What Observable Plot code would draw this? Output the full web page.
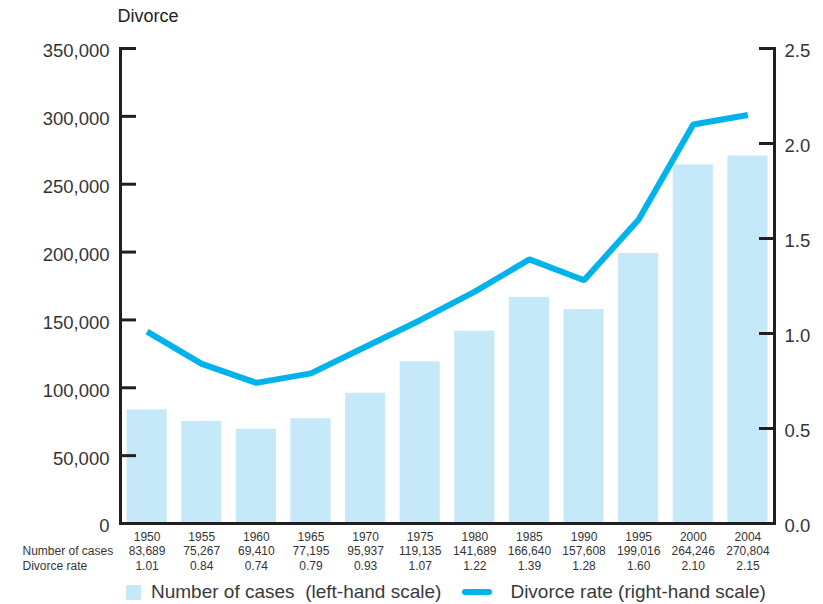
<!DOCTYPE html>
<html>
<head>
<meta charset="utf-8">
<script src="https://cdn.jsdelivr.net/npm/d3@7"></script>
<script src="https://cdn.jsdelivr.net/npm/@observablehq/plot@0.6"></script>
<style>
  html, body { margin: 0; padding: 0; background: #fff; }
  body { width: 823px; height: 604px; overflow: hidden; font-family: "Liberation Sans", Arial, Helvetica, sans-serif; }
  #chart svg { display: block; }
  #legend { height: 24px; display: flex; align-items: center; font-size: 19px; color: #3a3a3a; white-space: pre; }
  .sw-bar { width: 15px; height: 15px; background: #c6e9f9; margin-left: 126px; margin-right: 10px; }
  .sw-line { width: 30px; height: 6px; border-radius: 3px; background: #00b3eb; margin-left: 21px; margin-right: 18px; }
</style>
</head>
<body>
<div id="chart"></div>
<div id="legend"><span class="sw-bar"></span><span>Number of cases  (left-hand scale)</span><span class="sw-line"></span><span>Divorce rate (right-hand scale)</span></div>
<script>
const years = ["1950","1955","1960","1965","1970","1975","1980","1985","1990","1995","2000","2004"];
const cases = [83689, 75267, 69410, 77195, 95937, 119135, 141689, 166640, 157608, 199016, 264246, 270804];
const rates = [1.01, 0.84, 0.74, 0.79, 0.93, 1.07, 1.22, 1.39, 1.28, 1.60, 2.10, 2.15];
const leftTicks = [0, 50000, 100000, 150000, 200000, 250000, 300000, 350000];
const rightTicks = [0, 0.5, 1.0, 1.5, 2.0, 2.5];
const rowLabels = ["Number of cases", "Divorce rate"];
const title = "Divorce";

const ratio = 350000 / 2.5; // right-scale max maps to left-scale max
const data = years.map((year, i) => ({year, cases: cases[i], rate: rates[i]}));
const fmt = d3.format(",");
const byYear = new Map(data.map(d => [d.year, d]));

const axisColor = "#231f20";
const textColor = "#353535";

const chart = Plot.plot({
  width: 823,
  height: 580,
  marginLeft: 120,
  marginRight: 49,
  marginTop: 48,
  marginBottom: 57,
  style: {fontFamily: '"Liberation Sans", Arial, Helvetica, sans-serif', background: "#fff", overflow: "visible"},
  x: {type: "band", domain: years, paddingInner: 0.266, paddingOuter: 0.12, round: false, axis: null},
  y: {domain: [0, 350000], axis: null},
  marks: [
    Plot.barY(data, {x: "year", y: "cases", fill: "#c6e9f9"}),
    Plot.line(data, {x: "year", y: d => d.rate * ratio, stroke: "#00b3eb", strokeWidth: 6, strokeLinejoin: "miter", strokeLinecap: "butt"}),
    Plot.frame({anchor: "left", stroke: axisColor, strokeWidth: 3}),
    Plot.frame({anchor: "right", stroke: axisColor, strokeWidth: 3}),
    Plot.ruleY([0], {stroke: axisColor, strokeWidth: 3}),
    // inward ticks (tick only, no text)
    Plot.axisY({anchor: "right", frameAnchor: "left", ticks: leftTicks, tickSize: 15, stroke: axisColor, strokeWidth: 3, fill: "none", label: null}),
    Plot.axisY({anchor: "left", frameAnchor: "right", ticks: rightTicks.map(t => t * ratio), tickSize: 15, stroke: axisColor, strokeWidth: 3, fill: "none", label: null}),
    // tick labels
    Plot.axisY({anchor: "left", ticks: leftTicks, tickSize: 0, tickPadding: 11, tickFormat: fmt, fontSize: 18.5, fill: textColor, dy: 3, label: null}),
    Plot.axisY({anchor: "right", ticks: rightTicks.map(t => t * ratio), tickSize: 0, tickPadding: 10, tickFormat: d => (d / ratio).toFixed(1), fontSize: 18.5, fill: textColor, dy: 3, label: null}),
    Plot.axisX({anchor: "bottom", tickSize: 0, tickPadding: 7, lineHeight: 1.2, fontSize: 12, fill: textColor, label: null,
      tickFormat: y => { const d = byYear.get(y); return `${y}\n${fmt(d.cases)}\n${d.rate.toFixed(2)}`; }}),
    Plot.text([rowLabels.join("\n")], {text: d => d, frameAnchor: "bottom-left", textAnchor: "start", lineAnchor: "top", lineHeight: 1.2, dx: -98, dy: 7 + 14.4, fontSize: 12, fill: textColor}),
    Plot.text([title], {text: d => d, frameAnchor: "top-left", textAnchor: "start", dx: -3, dy: -39, fontSize: 18, fill: "#222"})
  ]
});
document.getElementById("chart").appendChild(chart);
</script>
</body>
</html>
